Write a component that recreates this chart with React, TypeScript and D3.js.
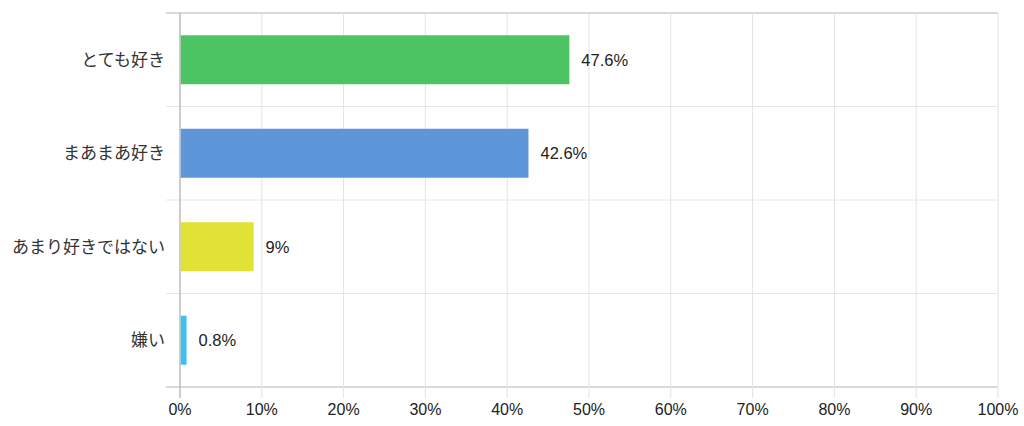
import React, { useEffect, useRef } from 'react';
import * as d3 from 'd3';

const categories = ['とても好き', 'まあまあ好き', 'あまり好きではない', '嫌い'];
const values = [47.6, 42.6, 9, 0.8];
const valueLabels = ['47.6%', '42.6%', '9%', '0.8%'];
const barColors = ['#4dc463', '#5d96d9', '#e0e335', '#3ec0ec'];
const xTicks = [0, 10, 20, 30, 40, 50, 60, 70, 80, 90, 100];

const App: React.FC = () => {
  const ref = useRef<SVGSVGElement>(null);

  useEffect(() => {
    if (!ref.current) return;
    const svg = d3.select(ref.current);
    svg.selectAll('*').remove();

    const width = 1024;
    const height = 426;
    const left = 180;
    const right = 998;
    const top = 13;
    const bottom = 387;
    const font = '"Liberation Sans", Arial, "Noto Sans CJK JP", sans-serif';

    const x = d3.scaleLinear().domain([0, 100]).range([left, right]);
    const y = d3.scaleBand<string>()
      .domain(categories)
      .range([top, bottom])
      .paddingInner(0.476)
      .paddingOuter(0.238);

    const step = y.step();
    const gap = step * y.paddingInner() / 2;

    // horizontal band lines
    const rowLines = categories.map(c => (y(c) as number) - gap).concat([bottom]);
    svg.append('g')
      .selectAll('line')
      .data(rowLines)
      .enter()
      .append('line')
        .attr('x1', left - 14)
        .attr('x2', right)
        .attr('y1', d => d)
        .attr('y2', d => d)
        .attr('stroke', (d, i) => (i === 0 || i === rowLines.length - 1 ? '#cccccc' : '#e6e6e6'))
        .attr('stroke-width', (d, i) => (i === 0 || i === rowLines.length - 1 ? 1.5 : 1));

    // vertical grid
    svg.append('g')
      .selectAll('line')
      .data(xTicks)
      .enter()
      .append('line')
        .attr('x1', d => x(d))
        .attr('x2', d => x(d))
        .attr('y1', top)
        .attr('y2', bottom + 11)
        .attr('stroke', d => (d === 0 ? '#bdbdbd' : '#e3e3e3'))
        .attr('stroke-width', d => (d === 0 ? 1.5 : 1));

    // bars
    svg.append('g')
      .selectAll('rect')
      .data(values)
      .enter()
      .append('rect')
        .attr('x', x(0) + 0.75)
        .attr('y', (d, i) => y(categories[i]) as number)
        .attr('width', d => x(d) - x(0) - 0.75)
        .attr('height', y.bandwidth())
        .attr('fill', (d, i) => barColors[i]);

    // value labels
    svg.append('g')
      .selectAll('text')
      .data(values)
      .enter()
      .append('text')
        .attr('x', d => x(d) + 12)
        .attr('y', (d, i) => (y(categories[i]) as number) + y.bandwidth() / 2)
        .attr('dy', '.35em')
        .attr('font-family', font)
        .attr('font-size', '16.5px')
        .attr('fill', '#222')
        .text((d, i) => valueLabels[i]);

    // category labels
    svg.append('g')
      .selectAll('text')
      .data(categories)
      .enter()
      .append('text')
        .attr('x', left - 15)
        .attr('y', d => (y(d) as number) + y.bandwidth() / 2)
        .attr('dy', '.35em')
        .attr('text-anchor', 'end')
        .attr('font-family', font)
        .attr('font-size', '17px')
        .attr('fill', '#333')
        .text(d => d);

    // x tick labels
    svg.append('g')
      .selectAll('text')
      .data(xTicks)
      .enter()
      .append('text')
        .attr('x', d => x(d))
        .attr('y', 415)
        .attr('text-anchor', 'middle')
        .attr('font-family', font)
        .attr('font-size', '16px')
        .attr('fill', '#222')
        .text(d => `${d}%`);

    svg.attr('width', width).attr('height', height);
  }, []);

  return (
    <svg
      ref={ref}
      width={1024}
      height={426}
      style={{ position: 'absolute', left: 0, top: 0, display: 'block', background: '#fff' }}
    />
  );
};

export default App;
